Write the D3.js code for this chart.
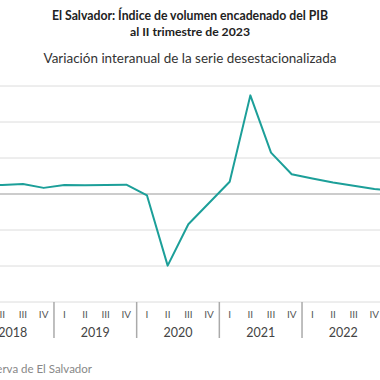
<!DOCTYPE html>
<html>
<head>
<meta charset="utf-8">
<script src="https://cdn.jsdelivr.net/npm/d3@7"></script>
<style>
  body { margin: 0; background: #fff; }
  text { font-family: Lato, "Open Sans", sans-serif; }
</style>
</head>
<body>
<script>
// data: year-on-year change (%), seasonally adjusted series
const years = ["2018", "2019", "2020", "2021", "2022", "2023"]
const quarterNames = ["I", "II", "III", "IV"]
const values = [
    2.2, 2.5, 2.8, 1.7,
    2.5, 2.4, 2.5, 2.6,
    -0.4, -19.9, -8.4, -2.5,
    3.4, 27.4, 11.5, 5.5,
    4.3, 3.2, 2.3, 1.4,
    0.9, 2.0
]
const yTicks = [-30, -20, -10, 0, 10, 20, 30]

const W = 380, H = 380

const svg = d3.select('body')
    .append('svg')
    .attr('width', W)
    .attr('height', H)

// quarters, one per value
const quarters = values.map((v, i) => ({
    key: years[Math.floor(i / 4)] + "-" + quarterNames[i % 4],
    year: years[Math.floor(i / 4)],
    q: quarterNames[i % 4],
    value: v
}))

// the plot is wider than the window, both ends are clipped
const x = d3.scaleBand()
    .domain(quarters.map(d => d.key))
    .range([-28.7, -28.7 + quarters.length * 20.67])
    .padding(0)

const y = d3.scaleLinear()
    .domain([-30, 30])
    .range([302, 86])

const cx = d => x(d.key) + x.bandwidth() / 2

// titles
const title = svg.append('g').attr('fill', '#222')
function fitText(sel, width) {
    const len = sel.node().getComputedTextLength()
    const fs = parseFloat(sel.attr('font-size'))
    sel.attr('font-size', (fs * width / len).toFixed(2))
}
fitText(title.append('text')
    .attr('x', W / 2).attr('y', 20)
    .attr('text-anchor', 'middle')
    .attr('font-weight', 'bold')
    .attr('font-size', 11)
    .text('El Salvador: Índice de volumen encadenado del PIB'), 276)
fitText(title.append('text')
    .attr('x', W / 2).attr('y', 36)
    .attr('text-anchor', 'middle')
    .attr('font-weight', 'bold')
    .attr('font-size', 11.5)
    .text('al II trimestre de 2023'), 120)
fitText(title.append('text')
    .attr('x', W / 2).attr('y', 63)
    .attr('text-anchor', 'middle')
    .attr('font-size', 13)
    .attr('fill', '#333')
    .text('Variación interanual de la serie desestacionalizada'), 293)

// gridlines
svg.append('g')
    .selectAll('line')
    .data(yTicks.filter(t => t !== 0))
    .join('line')
    .attr('x1', 0).attr('x2', W)
    .attr('y1', d => y(d)).attr('y2', d => y(d))
    .attr('stroke', '#dcdcdc')
    .attr('stroke-width', 1)

svg.append('line')
    .attr('x1', 0).attr('x2', W)
    .attr('y1', y(0)).attr('y2', y(0))
    .attr('stroke', '#9a9a9a')
    .attr('stroke-width', 1.2)

// x axis: quarters and years (only those that reach the window)
const inView = xc => xc > -12 && xc < W + 12
svg.append('g')
    .selectAll('text')
    .data(quarters.filter(d => inView(cx(d))))
    .join('text')
    .attr('x', cx)
    .attr('y', 318)
    .attr('text-anchor', 'middle')
    .attr('font-size', 10)
    .attr('fill', '#555')
    .text(d => d.q)

const yearCenter = d => x(d + "-I") + x.bandwidth() * 2
svg.append('g')
    .selectAll('text')
    .data(years.filter(d => inView(yearCenter(d))))
    .join('text')
    .attr('x', yearCenter)
    .attr('y', 337)
    .attr('text-anchor', 'middle')
    .attr('font-size', 12.5)
    .attr('fill', '#444')
    .text(d => d)

svg.append('g')
    .selectAll('line')
    .data(years)
    .join('line')
    .attr('x1', d => x(d + "-I")).attr('x2', d => x(d + "-I"))
    .attr('y1', 302).attr('y2', 338)
    .attr('stroke', '#aaa')
    .attr('stroke-width', 1.5)

// series line
const line = d3.line()
    .x(cx)
    .y(d => y(d.value))

svg.append('path')
    .datum(quarters)
    .attr('d', line)
    .attr('fill', 'none')
    .attr('stroke', '#1c9f99')
    .attr('stroke-width', 2)
    .attr('stroke-linejoin', 'round')

// source
svg.append('text')
    .attr('x', 92)
    .attr('y', 373)
    .attr('text-anchor', 'end')
    .attr('font-size', 11.5)
    .attr('fill', '#888')
    .text('Fuente: Banco Central de Reserva de El Salvador')
</script>
</body>
</html>
